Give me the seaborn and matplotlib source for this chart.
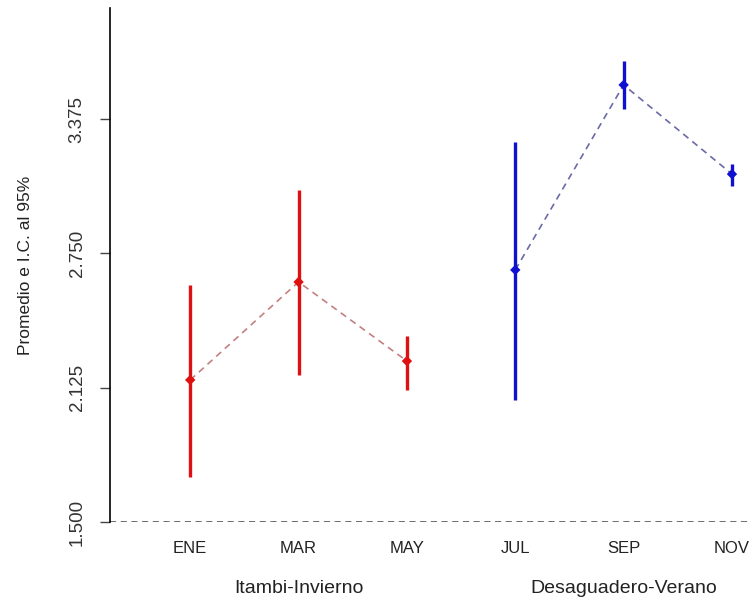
import numpy as np
import pandas as pd
import matplotlib
matplotlib.use("Agg")
import matplotlib.pyplot as plt
import seaborn as sns

months = ["ENE", "MAR", "MAY", "JUL", "SEP", "NOV"]
groups = ["Itambi-Invierno", "Itambi-Invierno", "Itambi-Invierno",
          "Desaguadero-Verano", "Desaguadero-Verano", "Desaguadero-Verano"]
means = [2.161, 2.617, 2.249, 2.673, 3.534, 3.119]
lower = [1.709, 2.184, 2.114, 2.068, 3.422, 3.064]
upper = [2.603, 3.045, 2.366, 3.268, 3.645, 3.165]
yticks = [1.500, 2.125, 2.750, 3.375]
group_names = ["Itambi-Invierno", "Desaguadero-Verano"]

df = pd.DataFrame({"mes": months, "grupo": groups, "media": means,
                   "lo": lower, "hi": upper})
df["pos"] = np.arange(len(df))

sns.set_theme(style="white")
plt.rcParams["font.family"] = ["Liberation Sans", "DejaVu Sans"]

fig = plt.figure(figsize=(7.5, 6.03), dpi=100)
ax = fig.add_axes([0.1467, 1 - 522 / 603, 797 / 750 - 0.1467, (522 - 8) / 603])

bar_col = {"Itambi-Invierno": "#e01010", "Desaguadero-Verano": "#1010d0"}
line_col = {"Itambi-Invierno": "#c48080", "Desaguadero-Verano": "#6a6aa8"}

for g in group_names:
    sub = df[df["grupo"] == g]
    sns.lineplot(data=sub, x="pos", y="media", ax=ax, color=line_col[g],
                 linestyle=(0, (4, 3)), linewidth=1.2, legend=False)
    ax.vlines(sub["pos"], sub["lo"], sub["hi"], color=bar_col[g], linewidth=2.4, zorder=3)
    sns.scatterplot(data=sub, x="pos", y="media", ax=ax, color=bar_col[g],
                    s=28, marker="D", edgecolor="none", zorder=4, legend=False)

ax.axhline(1.5, color="#444444", linestyle=(0, (4, 3)), linewidth=1.1, zorder=1)

ax.set_xlim(-0.74, 5.6)
ax.set_ylim(1.5, 3.892)
ax.set_yticks(yticks)
ax.set_yticklabels([f"{v:.3f}" for v in yticks], rotation=90, va="center",
                   fontsize=13.5, color="#333333")
ax.set_xticks(df["pos"])
ax.set_xticklabels(months, fontsize=12, color="#222222")
ax.tick_params(axis="x", length=0, pad=14)
ax.tick_params(axis="y", length=7.5, width=1, color="#444444", direction="out", pad=10, left=True)

for s in ["top", "right", "bottom"]:
    ax.spines[s].set_visible(False)
ax.spines["left"].set_color("black")
ax.spines["left"].set_linewidth(1.2)

ax.set_xlabel("")
ax.set_ylabel("Promedio e I.C. al 95%", fontsize=12.5, labelpad=26, color="#222222")

for g in group_names:
    center = df.loc[df["grupo"] == g, "pos"].mean()
    ax.text(center, -0.13, g, transform=ax.get_xaxis_transform(),
            ha="center", va="center", fontsize=14, color="#222222")

fig.savefig("out.png", dpi=100)
